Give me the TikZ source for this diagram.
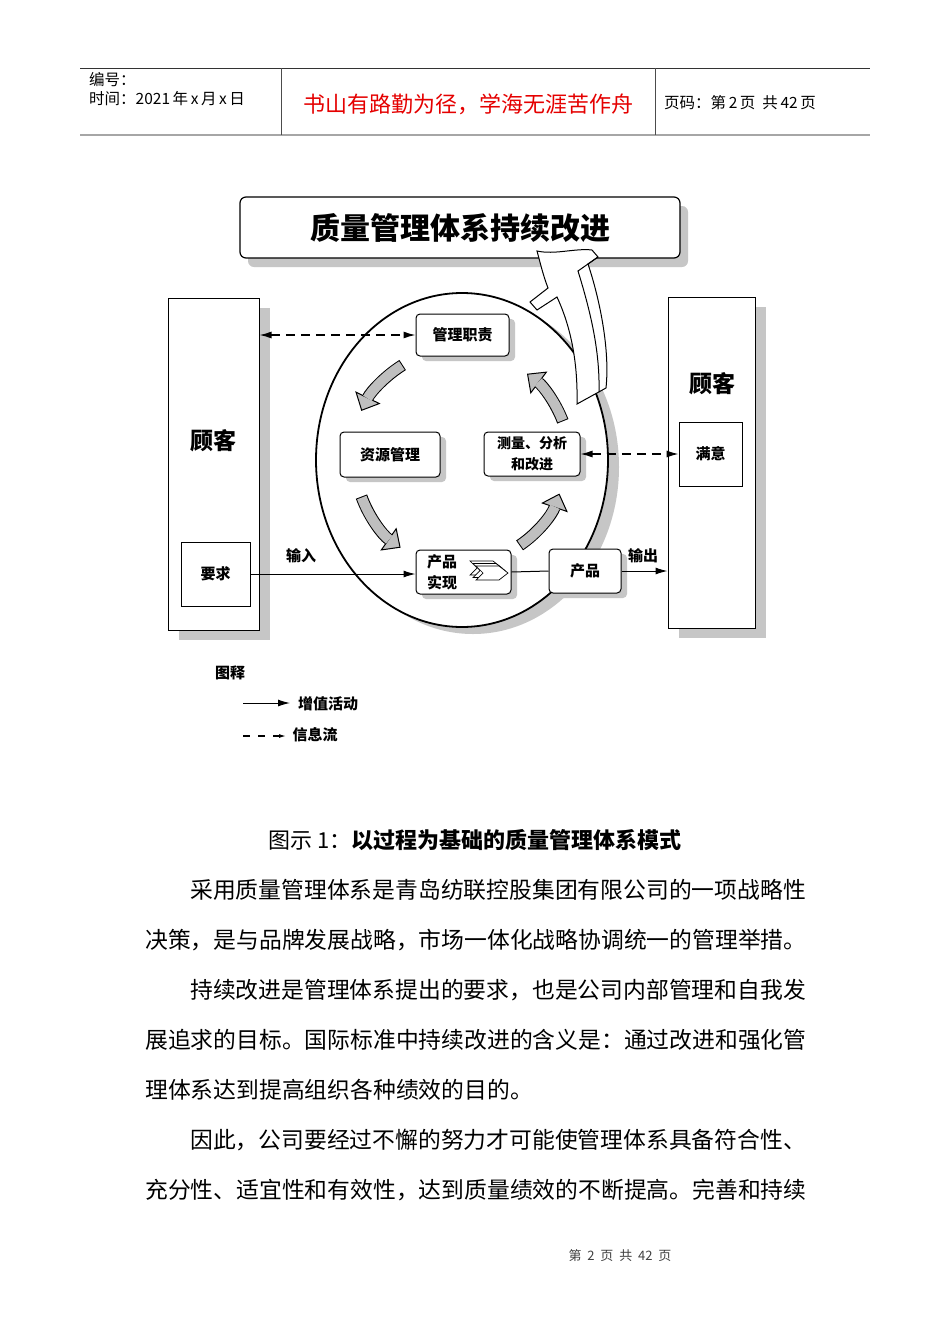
\documentclass[tikz,border=0pt]{standalone}
\usepackage{fontspec}
\setmainfont{Noto Sans CJK SC}
\usetikzlibrary{arrows.meta,calc,shadows}

\newcommand{\fsz}[1]{\fontsize{#1}{#1}\selectfont}

\tikzset{
  hdr/.style={font=\fsz{15.5}, inner sep=0pt},
  lbl/.style={font=\fsz{15}\bfseries, inner sep=0pt},
  bigword/.style={font=\fsz{23}\bfseries, inner sep=0pt},
  bodytext/.style={font=\fsz{22.8}, anchor=west, inner sep=0pt},
  titlebox/.style={draw, line width=1.2pt, rounded corners=6pt, fill=white,
    font=\fsz{30}\bfseries, drop shadow={shadow xshift=8pt, shadow yshift=-9pt, fill=gray!45, opacity=1}},
  custbox/.style={draw, line width=1pt, fill=white,
    drop shadow={shadow xshift=11pt, shadow yshift=-10pt, fill=gray!45, opacity=1}},
  innerbox/.style={draw, line width=0.8pt, fill=white, font=\fsz{15}\bfseries},
  procbox/.style={draw, line width=1pt, rounded corners=4pt, fill=white, font=\fsz{15}\bfseries,
    drop shadow={shadow xshift=6pt, shadow yshift=-5pt, fill=gray!45, opacity=1}},
  valueflow/.style={line width=1pt, -{Latex[length=12pt,width=7pt]}},
  infoline/.style={line width=1.3pt, dash pattern=on 9pt off 6pt},
  infoflow/.style={infoline, {Latex[length=12pt,width=7pt]}-{Latex[length=12pt,width=7pt]}},
  cycleout/.style={line width=12pt, -{Triangle[length=15pt,width=28pt,fill=gray!50,line width=1pt]}},
  cyclein/.style={line width=10pt, gray!50, shorten >=14pt, shorten <=1pt},
}

% hollow block arrow running round the hub: start angle, end angle, radius
\newcommand{\cyclearrow}[3]{%
  \draw[cycleout] ($(hub)+(#1:#3)$) arc[start angle=#1, end angle=#2, radius=#3];
  \draw[cyclein] ($(hub)+(#1:#3)$) arc[start angle=#1, end angle=#2, radius=#3];
}

\begin{document}
\begin{tikzpicture}[x=1pt,y=-1pt]
  \fill[white] (0,0) rectangle (950,1344);
  \useasboundingbox (0,0) rectangle (950,1344);

  % page header
  \draw[line width=1pt, black!80] (80,68) -- (870,68);
  \draw[line width=2pt, gray!70] (80,135) -- (870,135);
  \draw[line width=1pt, black!70] (281,68) -- (281,135) (655,68) -- (655,135);
  \node[hdr, anchor=west] (hdrno) at (89,80) {编号：};
  \node[hdr, anchor=west] (hdrdate) at (89,99) {时间：2021\,年\,x\,月\,x\,日};
  \node[font=\fsz{22}, text=red!90!black, inner sep=0pt] (motto) at (468,104) {书山有路勤为径，学海无涯苦作舟};
  \node[hdr, anchor=west] (hdrpage) at (664,103) {页码：第\,2\,页\ \ 共\,42\,页};

  % title banner
  \node[titlebox, minimum width=440pt, minimum height=61pt] (title) at (460,227.5) {质量管理体系持续改进};

  % the process circle and its shadow
  \coordinate (hub) at (462,460);
  \fill[gray!45] ($(hub)+(11,7)$) ellipse [x radius=146, y radius=167];
  \draw[line width=1.8pt, fill=white] (hub) ellipse [x radius=146, y radius=167];

  % customers
  \node[custbox, minimum width=91pt, minimum height=332pt] (custin) at (213.5,464) {};
  \node[bigword] (custinname) at (213,441) {顾客};
  \node[innerbox, minimum width=69pt, minimum height=64pt] (demand) at (215.5,574) {要求};
  \node[custbox, minimum width=87pt, minimum height=331pt] (custout) at (711.5,462.5) {};
  \node[bigword] (custoutname) at (712,384) {顾客};
  \node[innerbox, minimum width=63pt, minimum height=64pt] (satisfy) at (710.5,454) {满意};

  % improvement arrow rising into the banner
  \draw[line width=1pt, fill=white] (537,251) .. controls (555,255) and (575,248) .. (592,250)
    -- (598,257) -- (588,264) .. controls (600,300) and (610,350) .. (606,388)
    -- (577,404) .. controls (578,360) and (570,325) .. (557,297)
    -- (537,310) -- (530,302) -- (548,288) .. controls (543,275) and (540,262) .. (537,251) -- cycle;
  \draw[line width=1pt] (598,257) -- (578,271) .. controls (590,310) and (600,350) .. (599,392);

  % processes
  \node[procbox, minimum width=93pt, minimum height=42pt] (mgmt) at (462.5,335) {管理职责};
  \node[procbox, minimum width=100pt, minimum height=45pt] (resource) at (390,454.5) {资源管理};
  \node[procbox, minimum width=96pt, minimum height=44pt, align=center,
    font=\fontsize{14}{21}\selectfont\bfseries] (measure) at (532,454) {测量、分析\\和改进};
  \node[procbox, minimum width=95pt, minimum height=44pt] (realize) at (463.5,572) {};
  \node[lbl, align=center, font=\fontsize{15}{21}\selectfont\bfseries] (realizetxt) at (442,572.5) {产品\\实现};
  \node[procbox, minimum width=72pt, minimum height=44pt] (product) at (585,571) {产品};
  \draw[fill=white, line width=0.7pt] (470,561) -- ++(23,0) -- ++(9,7) -- ++(-9,7) -- ++(-23,0) -- ++(7,-7) -- cycle;
  \draw[fill=white, line width=0.7pt] (473,563.5) -- ++(23,0) -- ++(9,7) -- ++(-9,7) -- ++(-23,0) -- ++(7,-7) -- cycle;
  \draw[fill=white, line width=0.7pt] (476,566) -- ++(23,0) -- ++(9,7) -- ++(-9,7) -- ++(-23,0) -- ++(7,-7) -- cycle;

  \cyclearrow{238}{206}{112}
  \cyclearrow{160}{125}{107}
  \cyclearrow{56}{19}{103}
  \cyclearrow{-21}{-53}{108}

  % flows
  \draw[infoflow] (custin.east |- mgmt.west) -- (mgmt.west);
  \draw[infoflow] (measure.east) -- (satisfy.west);
  \draw[valueflow] (demand.east) -- (demand.east -| realize.west);
  \draw[line width=1pt] (realize.east) -- (product.west);
  \draw[valueflow] (product.east) -- (product.east -| custout.west);
  \node[lbl] (inlbl) at (301,556) {输入};
  \node[lbl] (outlbl) at (643,556) {输出};

  % legend
  \node[lbl] (legtitle) at (230,673) {图释};
  \node[lbl] (legvalue) at (328,704) {增值活动};
  \node[lbl] (leginfo) at (315,735) {信息流};
  \coordinate (legsolid) at (243,703);
  \coordinate (legsolidend) at (290,703);
  \coordinate (legdash) at (243,736);
  \coordinate (legdashend) at (286,736);
  \draw[valueflow] (legsolid) -- (legsolidend);
  \draw[line width=1.2pt, dash pattern=on 7pt off 8pt, -{Latex[length=7pt,width=4pt]}] (legdash) -- (legdashend);

  % caption and running text
  \node[font=\fsz{22}, anchor=west, inner sep=0pt] (caption) at (268,840) {图示 1：\textbf{以过程为基础的质量管理体系模式}};
  \node[bodytext] (para1a) at (190,890) {采用质量管理体系是青岛纺联控股集团有限公司的一项战略性};
  \node[bodytext] (para1b) at (145,940) {决策，是与品牌发展战略，市场一体化战略协调统一的管理举措。};
  \node[bodytext] (para2a) at (190,990) {持续改进是管理体系提出的要求，也是公司内部管理和自我发};
  \node[bodytext] (para2b) at (145,1040) {展追求的目标。国际标准中持续改进的含义是：通过改进和强化管};
  \node[bodytext] (para2c) at (145,1090) {理体系达到提高组织各种绩效的目的。};
  \node[bodytext] (para3a) at (190,1140) {因此，公司要经过不懈的努力才可能使管理体系具备符合性、};
  \node[bodytext] (para3b) at (145,1190) {充分性、适宜性和有效性，达到质量绩效的不断提高。完善和持续};

  \node[font=\fsz{13}, text=black!75, inner sep=0pt] (footer) at (620,1256) {第\ \ 2\ \ 页\ \ 共\ \ 42\ \ 页};
\end{tikzpicture}
\end{document}
